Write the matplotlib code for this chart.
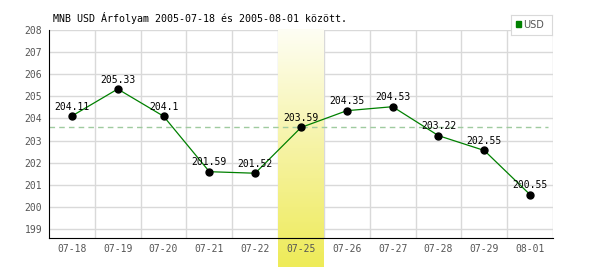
import numpy as np
import matplotlib
matplotlib.use("Agg")
import matplotlib.pyplot as plt
import matplotlib.transforms as mtransforms
from matplotlib.colors import LinearSegmentedColormap

# data
dates = ["07-18", "07-19", "07-20", "07-21", "07-22", "07-25",
         "07-26", "07-27", "07-28", "07-29", "08-01"]
usd = [204.11, 205.33, 204.1, 201.59, 201.52, 203.59,
       204.35, 204.53, 203.22, 202.55, 200.55]
highlight = "07-25"
ref_level = 203.62
title = "MNB USD Árfolyam 2005-07-18 és 2005-08-01 között."

plt.rcParams['font.family'] = ['DejaVu Sans Mono']

fig = plt.figure(figsize=(6, 2.7), dpi=100)
ax = fig.add_axes([49/600, 32/270, 504/600, 208/270])

x = np.arange(len(dates))

# grid: horizontal at each unit, vertical at cell edges
for yv in range(199, 209):
    ax.axhline(yv, color="#d9d9d9", lw=1, zorder=0)
for xv in np.arange(-0.5, len(dates), 1.0)[1:]:
    ax.axvline(xv, color="#d9d9d9", lw=1, zorder=0)

# yellow gradient band behind the highlighted day, down past the axis
hi = dates.index(highlight)
cmap = LinearSegmentedColormap.from_list("band", ["#fefef4", "#f6f3a4", "#eeeb58"])
grad = np.linspace(0, 1, 256).reshape(-1, 1)
trans = mtransforms.blended_transform_factory(ax.transData, ax.transAxes)
ax.imshow(grad, aspect="auto", cmap=cmap, origin="upper",
          extent=(hi - 0.5, hi + 0.5, -0.14, 1.0),
          transform=trans, zorder=1, clip_on=False)
ax.set_xlim(-0.5, len(dates) - 0.5)
ax.set_ylim(198.59, 208.0)

ax.axhline(ref_level, xmax=0.99, color="#9fcb9f", lw=1, ls=(0, (4, 3)), zorder=2)

ax.plot(x, usd, color="#008000", lw=0.9, zorder=3)
ax.plot(x, usd, "o", color="black", ms=5, zorder=4)

for xi, v in zip(x, usd):
    ax.text(xi, v + 0.2, f"{v:g}", ha="center", va="bottom",
            fontsize=7, color="black", zorder=5)

ax.set_xticks(x)
ax.set_xticklabels(dates)
ax.set_yticks(range(199, 209))
ax.tick_params(length=0, labelsize=7, labelcolor="#555555", pad=5)
ax.tick_params(axis="x", pad=4)

for side in ["top", "right"]:
    ax.spines[side].set_visible(False)
ax.spines["left"].set_color("black")
ax.spines["bottom"].set_color("black")
ax.spines["left"].set_zorder(6)
ax.spines["bottom"].set_zorder(6)

fig.text(53/600, 1 - 18/270, title, fontsize=7.2, color="black", va="center")

# legend box
lb = fig.add_axes([511/600, 1 - 35/270, 41/600, 20/270])
lb.set_xticks([])
lb.set_yticks([])
for s in lb.spines.values():
    s.set_color("#d9d9d9")
lb.add_patch(plt.Rectangle((0.12, 0.38), 0.13, 0.3, color="#008000",
                           transform=lb.transAxes))
lb.text(0.3, 0.52, "USD", fontsize=7, color="#555555", va="center",
        family="DejaVu Sans", transform=lb.transAxes)

fig.savefig("out.png", dpi=100)
